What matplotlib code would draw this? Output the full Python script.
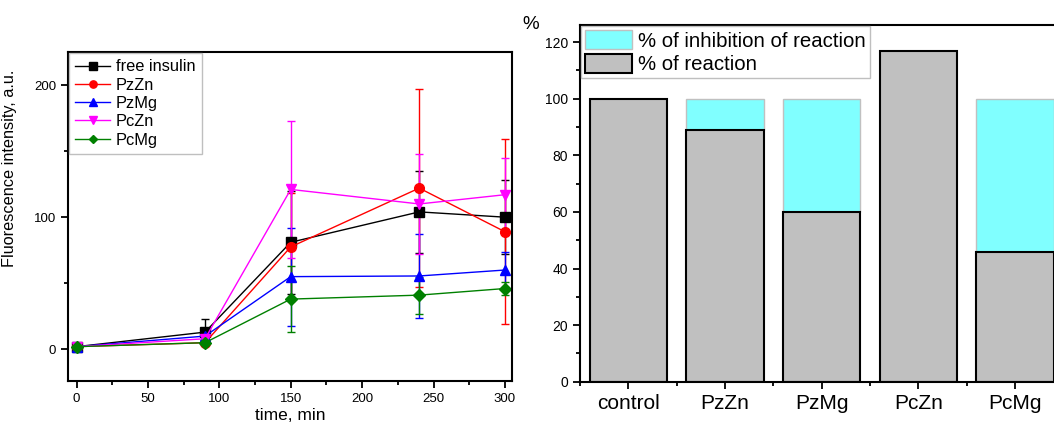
import matplotlib
matplotlib.use("Agg")
import matplotlib.pyplot as plt
import numpy as np
from matplotlib.ticker import MultipleLocator

plt.rcParams['font.family'] = ['Liberation Sans', 'DejaVu Sans']

# kinetics data
time = [0, 90, 150, 240, 300]
free_insulin = [2, 13, 81, 104, 100]
free_insulin_err = [0, 10, 39, 31, 28]
pzzn = [2, 5, 77.5, 122, 89]
pzzn_err = [0, 2, 41, 75, 70]
pzmg = [2, 10, 55, 55.5, 60]
pzmg_err = [0, 2, 37, 31.5, 14]
pczn = [2, 8, 121, 110, 117]
pczn_err = [0, 2, 52, 38, 28]
pcmg = [2, 5, 38, 41, 46]
pcmg_err = [0, 2, 25, 14, 5]

# bar data
groups = ['control', 'PzZn', 'PzMg', 'PcZn', 'PcMg']
reaction = [100, 89, 60, 117, 46]
inhibition = [0, 11, 40, 0, 54]

fig = plt.figure(figsize=(10.54, 4.26), dpi=100)

# left panel
ax1 = fig.add_axes([0.0645, 0.1056, 0.4213, 0.7723])
series = [
    ('free insulin', free_insulin, free_insulin_err, 'black', 's'),
    ('PzZn', pzzn, pzzn_err, 'red', 'o'),
    ('PzMg', pzmg, pzmg_err, 'blue', '^'),
    ('PcZn', pczn, pczn_err, 'magenta', 'v'),
    ('PcMg', pcmg, pcmg_err, 'green', 'D'),
]
handles = []
for name, vals, err, col, mk in series:
    eb = ax1.errorbar(time, vals, yerr=err, color=col, marker=mk, markersize=7 if mk != 'D' else 6,
                      linewidth=1, elinewidth=1, capsize=3, capthick=1, label=name)
    handles.append(eb.lines[0])

ax1.set_xlim(-6, 305)
ax1.set_ylim(-24, 225)
ax1.xaxis.set_major_locator(MultipleLocator(50))
ax1.xaxis.set_minor_locator(MultipleLocator(25))
ax1.yaxis.set_major_locator(MultipleLocator(100))
ax1.yaxis.set_minor_locator(MultipleLocator(50))
ax1.tick_params(which='both', direction='out', width=1.3, labelsize=9.5)
ax1.tick_params(which='major', length=5)
ax1.tick_params(which='minor', length=3)
for s in ax1.spines.values():
    s.set_linewidth(1.5)
ax1.set_xlabel('time, min', fontsize=12.5, labelpad=2)
ax1.set_ylabel('Fluorescence intensity, a.u.', fontsize=11.7)
ax1.yaxis.set_label_coords(-0.115, 0.647)
leg1 = ax1.legend(handles=handles, labels=[s[0] for s in series], loc='upper left',
                  fontsize=11.8, frameon=True, fancybox=False, markerscale=0.75,
                  borderaxespad=0.05, handlelength=2.1, labelspacing=0.2,
                  borderpad=0.4, handletextpad=0.36)
leg1.get_frame().set_edgecolor('#b0b0b0')
leg1.get_frame().set_linewidth(1)

# right panel
ax2 = fig.add_axes([0.5503, 0.104, 0.4587, 0.837])
x = np.arange(len(groups))
ax2.bar(x, inhibition, bottom=reaction, width=0.8, color='#80ffff', edgecolor='#c0c0c0',
        linewidth=1, label='% of inhibition of reaction')
ax2.bar(x, reaction, width=0.8, color='#c0c0c0', edgecolor='black', linewidth=1.5,
        label='% of reaction')
ax2.set_xlim(-0.5, 4.5)
ax2.set_ylim(0, 126)
ax2.set_xticks(x)
ax2.set_xticklabels(groups)
ax2.xaxis.set_minor_locator(MultipleLocator(1, offset=0.5))
ax2.yaxis.set_major_locator(MultipleLocator(20))
ax2.yaxis.set_minor_locator(MultipleLocator(10))
ax2.tick_params(which='both', direction='out', width=1.3)
ax2.tick_params(axis='y', labelsize=10)
ax2.tick_params(axis='x', labelsize=15)
ax2.tick_params(which='major', length=5)
ax2.tick_params(which='minor', length=3)
for s in ax2.spines.values():
    s.set_linewidth(1.5)
ax2.text(-0.12, 0.99, '%', transform=ax2.transAxes, fontsize=13.5, ha='left', va='baseline')
leg2 = ax2.legend(loc='upper left', fontsize=14.7, frameon=True, fancybox=False,
                  borderaxespad=0.05, handlelength=2.3, handleheight=1.05,
                  labelspacing=0.15, borderpad=0.2, handletextpad=0.3)
leg2.get_frame().set_edgecolor('#b0b0b0')
leg2.get_frame().set_linewidth(1)

fig.savefig('out.png', dpi=100)
